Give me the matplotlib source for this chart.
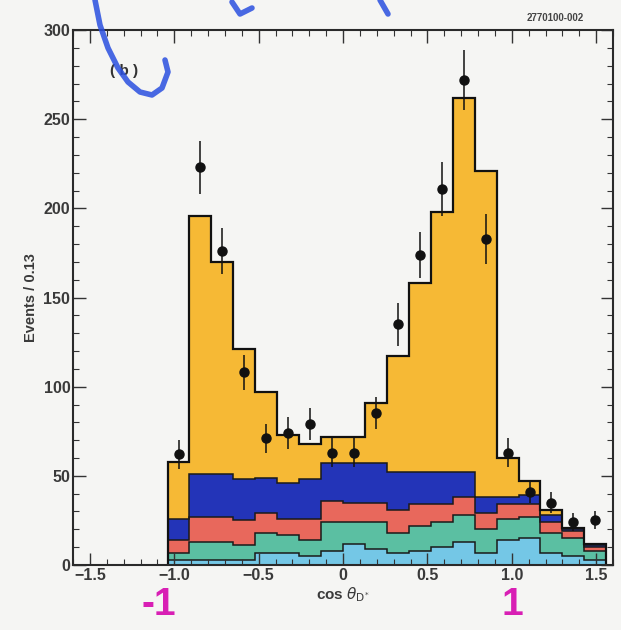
import numpy as np
import matplotlib.pyplot as plt
from matplotlib.lines import Line2D
from matplotlib.ticker import MultipleLocator

# bin centres (cos theta_D*), bin width 0.13
bin_centers = [-0.975, -0.845, -0.715, -0.585, -0.455, -0.325, -0.195, -0.065,
               0.065, 0.195, 0.325, 0.455, 0.585, 0.715, 0.845, 0.975,
               1.105, 1.235, 1.365, 1.495]
bin_width = 0.13

# cumulative (stacked) tops of each component
top_lightblue = [3, 3, 3, 3, 7, 7, 5, 8, 12, 9, 7, 8, 10, 13, 7, 14, 15, 7, 5, 3]
top_teal = [7, 13, 13, 11, 18, 17, 14, 24, 24, 24, 18, 22, 24, 28, 20, 26, 27, 18, 15, 8]
top_red = [14, 27, 27, 25, 29, 26, 26, 36, 35, 35, 31, 34, 34, 38, 29, 34, 34, 24, 19, 10]
top_blue = [26, 51, 51, 48, 49, 46, 48, 57, 57, 57, 52, 52, 52, 52, 38, 38, 39, 28, 20, 11]
top_total = [58, 196, 170, 121, 97, 73, 68, 72, 72, 91, 117, 158, 198, 262, 221, 60, 47, 31, 21, 12]

# data points
data_y = [62, 223, 176, 108, 71, 74, 79, 63, 63, 85, 135, 174, 211, 272, 183, 63, 41, 35, 24, 25]
data_err = [8, 15, 13, 10, 8, 9, 9, 8, 8, 9, 12, 13, 15, 17, 14, 8, 6, 6, 5, 5]

xticks = [-1.5, -1.0, -0.5, 0, 0.5, 1.0, 1.5]
xticklabels = ['\u22121.5', '\u22121.0', '\u22120.5', '0', '0.5', '1.0', '1.5']

bg = '#f5f5f3'
plt.rcParams['font.family'] = ['Liberation Sans', 'DejaVu Sans']

fig = plt.figure(figsize=(6.21, 6.30), dpi=100, facecolor=bg)
ax = fig.add_axes([0.1176, 0.1032, 0.8696, 0.849], facecolor=bg)

centers = np.array(bin_centers)
edges = np.append(centers - bin_width / 2, centers[-1] + bin_width / 2)

layers = [
    (np.zeros(len(centers)), top_lightblue, '#74c7e6'),
    (top_lightblue, top_teal, '#5bbfa2'),
    (top_teal, top_red, '#e8685c'),
    (top_red, top_blue, '#2334b8'),
    (top_blue, top_total, '#f6b935'),
]
for lo, hi, col in layers:
    ax.stairs(hi, edges, baseline=lo, fill=True, color=col, lw=0)
for lo, hi, col in layers:
    ax.stairs(hi, edges, baseline=None, color='#1a1a1a', lw=1.1)
ax.stairs(top_total, edges, baseline=0, color='#111111', lw=1.6)

ax.errorbar(centers, data_y, yerr=data_err, fmt='o', color='#111111',
            ms=6.5, elinewidth=1.1, capsize=0, zorder=5)

ax.set_xlim(-1.6, 1.6)
ax.set_ylim(0, 300)
ax.set_xticks(xticks)
ax.set_xticklabels(xticklabels)
ax.set_yticks([0, 50, 100, 150, 200, 250, 300])
ax.xaxis.set_minor_locator(MultipleLocator(0.1))
ax.yaxis.set_minor_locator(MultipleLocator(10))
ax.tick_params(which='both', direction='in', top=True, right=True,
               colors='#333333', labelcolor='#3a3a3a')
ax.tick_params(which='major', length=9, width=1.0, labelsize=11.5, pad=2)
ax.tick_params(which='minor', length=4.5, width=0.8)
for lab in ax.get_xticklabels() + ax.get_yticklabels():
    lab.set_fontweight('bold')
for sp in ax.spines.values():
    sp.set_linewidth(1.5)
    sp.set_color('#2a2a2a')

ax.set_xlabel(r'cos $\theta_{\mathrm{D^{*}}}$', fontsize=11, fontweight='bold',
              color='#3a3a3a', labelpad=2)
ax.set_ylabel('Events / 0.13', fontsize=10.5, fontweight='bold',
              color='#3a3a3a', labelpad=4)

ax.text(-1.38, 277, '( b )', fontsize=11, fontweight='bold', color='#333333',
        ha='left', va='center')
fig.text(0.94, 0.972, '2770100-002', fontsize=7, fontweight='bold',
         color='#444444', ha='right', va='center')

# handwritten marks on the scan
fig.text(0.255, 0.068, '-1', fontsize=28, fontweight='bold', color='#d81fb4',
         ha='center', va='top')
fig.text(0.825, 0.068, '1', fontsize=28, fontweight='bold', color='#d81fb4',
         ha='center', va='top')
pen = dict(color='#2a4fe0', lw=4, solid_capstyle='round', alpha=0.85)
arc_x = [95, 100, 108, 118, 128, 140, 152, 162, 168, 165]
arc_y = [0, 25, 48, 68, 82, 92, 95, 88, 72, 60]
fig.add_artist(Line2D([x / 621 for x in arc_x], [1 - y / 630 for y in arc_y], **pen))
fig.add_artist(Line2D([232 / 621, 240 / 621, 252 / 621], [1 - 2 / 630, 1 - 14 / 630, 1 - 8 / 630], **pen))
fig.add_artist(Line2D([380 / 621, 388 / 621], [1 - 0 / 630, 1 - 14 / 630], **pen))

fig.savefig('out.png', dpi=100, facecolor=bg)
